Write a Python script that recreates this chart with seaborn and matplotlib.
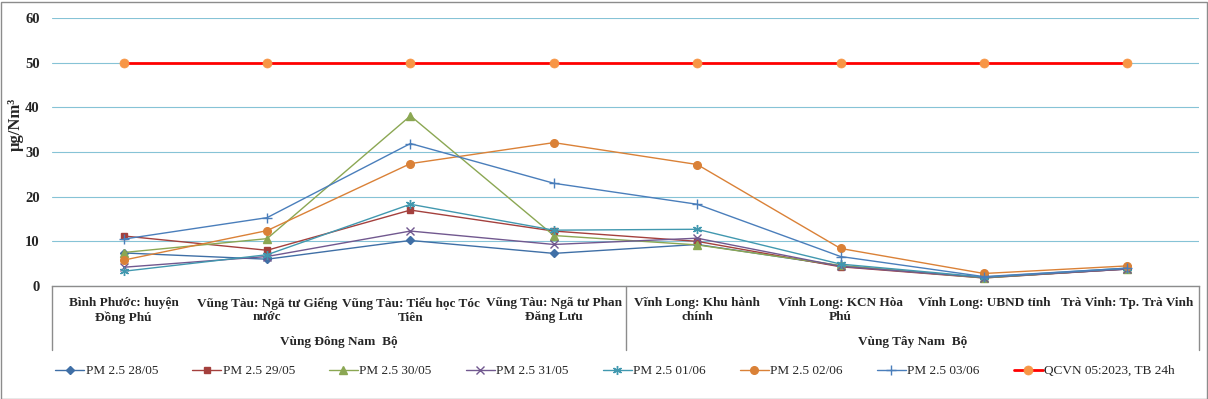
import numpy as np
import pandas as pd
import matplotlib
matplotlib.use("Agg")
import matplotlib.pyplot as plt
import seaborn as sns
from matplotlib.patches import Rectangle

sites = [
    "Bình Phước: huyện\nĐồng Phú",
    "Vũng Tàu: Ngã tư Giếng\nnước",
    "Vũng Tàu: Tiểu học Tóc\nTiên",
    "Vũng Tàu: Ngã tư Phan\nĐăng Lưu",
    "Vĩnh Long: Khu hành\nchính",
    "Vĩnh Long: KCN Hòa\nPhú",
    "Vĩnh Long: UBND tỉnh",
    "Trà Vinh: Tp. Trà Vinh",
]
regions = ["Vùng Đông Nam  Bộ", "Vùng Tây Nam  Bộ"]

pm_2805 = [7.4, 6.0, 10.2, 7.3, 9.3, 4.5, 1.9, 3.8]
pm_2905 = [11.2, 8.0, 17.0, 12.3, 10.0, 4.3, 1.8, 3.8]
pm_3005 = [7.5, 10.6, 38.1, 11.3, 9.2, 4.6, 1.8, 3.9]
pm_3105 = [4.2, 6.6, 12.3, 9.3, 10.7, 4.4, 1.9, 3.8]
pm_0106 = [3.3, 7.0, 18.3, 12.5, 12.7, 4.9, 2.0, 4.0]
pm_0206 = [5.8, 12.4, 27.4, 32.1, 27.2, 8.4, 2.8, 4.5]
pm_0306 = [10.5, 15.3, 31.9, 23.0, 18.3, 6.6, 2.1, 4.0]
qcvn = [50, 50, 50, 50, 50, 50, 50, 50]

series = [
    ("PM 2.5 28/05", pm_2805, "#3F6FA6", "D", 4.5),
    ("PM 2.5 29/05", pm_2905, "#A4403D", "s", 5.0),
    ("PM 2.5 30/05", pm_3005, "#8BA753", "^", 6.0),
    ("PM 2.5 31/05", pm_3105, "#71588F", "x", 5.5),
    ("PM 2.5 01/06", pm_0106, "#4198AF", (6, 2, 0), 6.5),
    ("PM 2.5 02/06", pm_0206, "#DA8137", "o", 5.5),
    ("PM 2.5 03/06", pm_0306, "#4A7EBB", "+", 7.0),
]

sns.set_style("white")
plt.rcParams["font.family"] = ["Liberation Serif", "DejaVu Serif"]

fig = plt.figure(figsize=(12.08, 3.99), dpi=100)
ax = fig.add_axes([52 / 1208, (399 - 286) / 399, 1147 / 1208, 268 / 399])

xs = np.arange(len(sites))
for name, vals, color, marker, ms in series:
    sns.lineplot(x=xs, y=vals, ax=ax, color=color, marker=marker, markersize=ms,
                 markeredgecolor=color, markeredgewidth=1.0, linewidth=1.0, label=name)

sns.lineplot(x=xs, y=qcvn, ax=ax, color="#FF0000", linewidth=2.0, marker="o",
             markersize=6.5, markerfacecolor="#F79646", markeredgecolor="#F79646",
             markeredgewidth=0.5, label="QCVN 05:2023, TB 24h")

ax.set_xlim(-0.5, len(sites) - 0.5)
ax.set_ylim(0, 60)
ax.set_yticks(range(0, 61, 10))
ax.yaxis.grid(True, color="#86C3D6", linewidth=0.8)
ax.set_axisbelow(True)
for s in ["top", "right", "left"]:
    ax.spines[s].set_visible(False)
ax.spines["bottom"].set_color("#8C8C8C")
ax.spines["bottom"].set_linewidth(1.0)
ax.tick_params(axis="y", length=0, pad=9, labelsize=10.5)
ax.tick_params(axis="x", length=0, pad=8, labelsize=9.5)
for t in ax.get_yticklabels():
    t.set_fontweight("bold")
ax.set_xticks(xs)
ax.set_xticklabels(sites, fontweight="bold", linespacing=1.2)
ax.set_xlabel("")
ax.set_ylabel("")

# group dividers and labels
for xd in [-0.5, 3.5, 7.5]:
    ax.plot([xd, xd], [0, -0.239], transform=ax.get_xaxis_transform(),
            color="#8C8C8C", linewidth=1.0, clip_on=False)
ax.text(1.5, -0.21, regions[0], transform=ax.get_xaxis_transform(),
        ha="center", va="center", fontsize=9.5, fontweight="bold")
ax.text(5.5, -0.21, regions[1], transform=ax.get_xaxis_transform(),
        ha="center", va="center", fontsize=9.5, fontweight="bold")

fig.text(16 / 1208, (399 - 124) / 399, "µg/Nm³", rotation=90, ha="center",
         va="center", fontsize=12, fontweight="bold")

handles, labels = ax.get_legend_handles_labels()
ax.get_legend().remove()
fig.legend(handles, labels, ncol=8, loc="center left", frameon=False,
           bbox_to_anchor=(50 / 1208, (399 - 371) / 399, 1130 / 1208, 0),
           mode="expand", fontsize=9.5, handlelength=2.2, handletextpad=0.1,
           borderaxespad=0)

fig.add_artist(Rectangle((0.5 / 1208, 0.5 / 399), 1206 / 1208, 397 / 399,
                         transform=fig.transFigure, fill=False,
                         edgecolor="#8C8C8C", linewidth=1.0))

fig.savefig("out.png", dpi=100)
